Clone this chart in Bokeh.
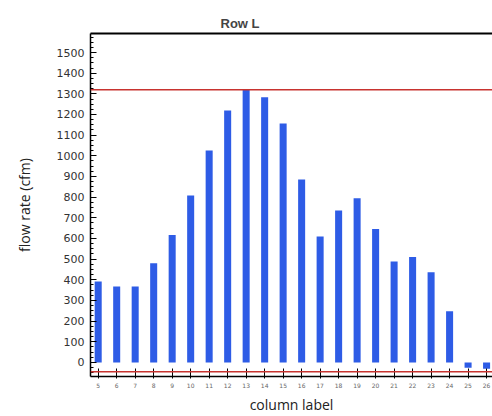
from bokeh.plotting import figure
from bokeh.models import FixedTicker, Span, Range1d, LinearAxis
from bokeh.embed import file_html
from bokeh.resources import INLINE

# ---- data ----
columns = [5, 6, 7, 8, 9, 10, 11, 12, 13, 14, 15, 16, 17, 18, 19, 20, 21, 22, 23, 24, 25, 26]
flow = [392, 368, 368, 480, 617, 808, 1026, 1219, 1318, 1284, 1156, 885,
        610, 735, 795, 646, 489, 510, 437, 248, -26, -30]
limits = [1320, -45]
y_ticks = list(range(0, 1600, 100))
title_text = "Row L"
x_label = "column label"
y_label = "flow rate (cfm)"

p = figure(width=492, height=416, output_backend="svg", toolbar_location=None,
           x_range=Range1d(4.584, 26.32), y_range=Range1d(-68, 1592),
           min_border_left=90, min_border_right=0, min_border_top=33, min_border_bottom=40)

p.vbar(x=columns, top=flow, bottom=0, width=0.38, fill_color="#2e5ce6", line_color=None)

for lim in limits:
    p.add_layout(Span(location=lim, dimension="width", line_color="#c8332f", line_width=1.5))

p.grid.visible = False
p.outline_line_color = None
p.background_fill_color = "white"
p.border_fill_color = "white"

ya = p.left[0]
xa = p.below[0]

# top frame line (no right border in the reference)
top_axis = LinearAxis(ticker=FixedTicker(ticks=[]), axis_line_color="black", axis_line_width=2,
                      major_tick_in=0, major_tick_out=0, minor_tick_in=0, minor_tick_out=0,
                      major_label_text_font_size="1px")
p.add_layout(top_axis, "above")

# title
p.title.text = title_text
p.title.text_font = "Liberation Sans"
p.title.text_font_style = "bold"
p.title.text_font_size = "13px"
p.title.align = "left"
p.title.offset = 130
p.title.standoff = 6

# y axis
ya.ticker = FixedTicker(ticks=y_ticks, minor_ticks=list(range(-50, 1600, 25)))
ya.major_tick_in = 6
ya.major_tick_out = 0
ya.minor_tick_in = 3
ya.minor_tick_out = 0
ya.axis_line_color = "black"
ya.axis_line_width = 1.5
ya.major_label_text_font = "DejaVu Sans"
ya.major_label_text_font_size = "11px"
ya.major_label_text_color = "#333333"
ya.major_label_standoff = 6
ya.axis_label = y_label
ya.axis_label_text_font = "Open Sans"
ya.axis_label_text_font_style = "normal"
ya.axis_label_text_font_size = "14px"
ya.axis_label_text_color = "#222222"
ya.axis_label_standoff = 20

# x axis
xa.ticker = FixedTicker(ticks=columns, minor_ticks=[])
xa.major_tick_in = 8
xa.major_tick_out = 2
xa.minor_tick_in = 0
xa.minor_tick_out = 0
xa.axis_line_color = "black"
xa.axis_line_width = 1.5
xa.major_label_text_font = "DejaVu Sans"
xa.major_label_text_font_size = "6px"
xa.major_label_text_color = "#666666"
xa.major_label_standoff = 4
xa.axis_label = x_label
xa.axis_label_text_font = "Open Sans"
xa.axis_label_text_font_style = "normal"
xa.axis_label_text_font_size = "14px"
xa.axis_label_text_color = "#222222"
xa.axis_label_standoff = 4

open("out.html", "w").write(file_html(p, INLINE))
